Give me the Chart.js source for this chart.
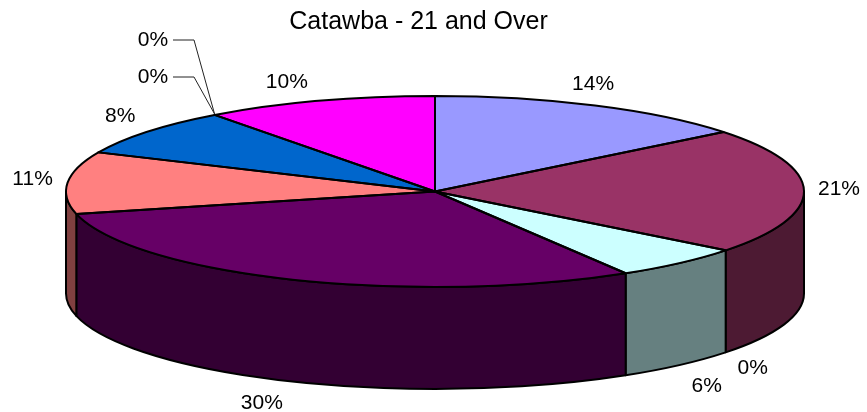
<!DOCTYPE html>
<html><head><meta charset="utf-8">
<style>html,body{margin:0;padding:0;background:#fff}#w{width:867px;height:412px;position:relative}</style>
<script src="https://cdn.jsdelivr.net/npm/chart.js@4"></script>
</head><body><div id="w"><canvas id="c"></canvas></div>
<script>
const titleText = 'Catawba - 21 and Over';
const categories = ['A','B','C','D','E','F','G','H','I','J'];
const values = [14.3,21.3,0,5.8,29.9,10.5,8.1,0,0,10.2];
const percentLabels = ['14%','21%','0%','6%','30%','11%','8%','0%','0%','10%'];
const topColors = ['#9999FF','#993366','#FFFFCC','#CCFFFF','#660066','#FF8080','#0066CC','#CCCCFF','#000080','#FF00FF'];
const sideColors = ['#4d4d80','#4d1a33','#808066','#668080','#330033','#804040','#003366','#666680','#000040','#800080'];
// layout of the tilted pie
const view = {cx:435, cy:191.5, rx:369, ry:95.5, depth:102};
// label centre, offset from the point where the slice's mid-angle meets the rim
const labelOffsets = [[-2,-21],[35,-2],[0,0],[0,0],[0,0],[-35,-3],[-27,-16],[0,0],[0,0],[-32,-19]];
const labelBelow = [0,0,1,1,1,0,0,0,0,0];
const bottomOffsets = {2:[27,16],3:[27,21],4:[-31,22]};
const leaderLabels = {7:[153,40,173,194],8:[153,77,173,194]};
const labelFont = '21px "Liberation Sans", Arial, sans-serif';

const tilt = {
  id:'tilt',
  beforeDatasetsDraw(chart){
    const ctx = chart.ctx, arcs = chart.getDatasetMeta(0).data;
    ctx.save();
    ctx.lineWidth = 2; ctx.strokeStyle = '#000'; ctx.lineJoin = 'round';
    arcs.forEach((a,i)=>{
      if(!values[i]) return;
      const s = Math.max(a.startAngle,0), e = Math.min(a.endAngle,Math.PI);
      if(e<=s) return;
      ctx.beginPath();
      ctx.ellipse(view.cx,view.cy,view.rx,view.ry,0,s,e);
      ctx.ellipse(view.cx,view.cy+view.depth,view.rx,view.ry,0,e,s,true);
      ctx.closePath();
      ctx.fillStyle = sideColors[i];
      ctx.fill(); ctx.stroke();
    });
    ctx.restore();
    const p = arcs[0];
    ctx.save();
    ctx.translate(view.cx,view.cy);
    ctx.scale(view.rx/p.outerRadius,view.ry/p.outerRadius);
    ctx.translate(-p.x,-p.y);
  },
  afterDatasetsDraw(chart){
    const ctx = chart.ctx, arcs = chart.getDatasetMeta(0).data;
    ctx.restore();
    ctx.save();
    ctx.lineWidth = 2; ctx.strokeStyle = '#000'; ctx.lineJoin = 'round';
    arcs.forEach((a,i)=>{
      if(!values[i]) return;
      ctx.beginPath();
      ctx.moveTo(view.cx,view.cy);
      ctx.ellipse(view.cx,view.cy,view.rx,view.ry,0,a.startAngle,a.endAngle);
      ctx.closePath();
      ctx.stroke();
    });
    ctx.font = labelFont; ctx.fillStyle = '#000';
    ctx.textAlign = 'center'; ctx.textBaseline = 'middle';
    arcs.forEach((a,i)=>{
      const m = i===2 ? a.startAngle : (a.startAngle+a.endAngle)/2;
      const ex = view.cx+view.rx*Math.cos(m), ey = view.cy+view.ry*Math.sin(m);
      if(leaderLabels[i]){
        const [lx,ly,x0,x1] = leaderLabels[i];
        ctx.fillText(percentLabels[i],lx,ly);
        ctx.save();
        ctx.lineWidth = 1; ctx.strokeStyle = '#222';
        ctx.beginPath(); ctx.moveTo(x0,ly); ctx.lineTo(x1,ly); ctx.lineTo(ex,ey-1); ctx.stroke();
        ctx.restore();
        return;
      }
      const o = labelBelow[i] ? bottomOffsets[i] : labelOffsets[i];
      const by = labelBelow[i] ? view.depth : 0;
      ctx.fillText(percentLabels[i],ex+o[0],ey+by+o[1]);
    });
    ctx.restore();
  }
};

new Chart(document.getElementById('c'),{
  type:'pie',
  data:{labels:categories,datasets:[{data:values,backgroundColor:topColors,borderWidth:0}]},
  options:{
    responsive:true,maintainAspectRatio:false,animation:false,
    layout:{padding:{left:0,right:30,top:0,bottom:64}},
    plugins:{
      legend:{display:false},tooltip:{enabled:false},
      title:{display:true,text:titleText,color:'#000',
        font:{family:'"Liberation Sans", Arial, sans-serif',size:25,weight:'normal'},
        padding:{top:7,bottom:2}}
    }
  },
  plugins:[tilt]
});
</script></body></html>
